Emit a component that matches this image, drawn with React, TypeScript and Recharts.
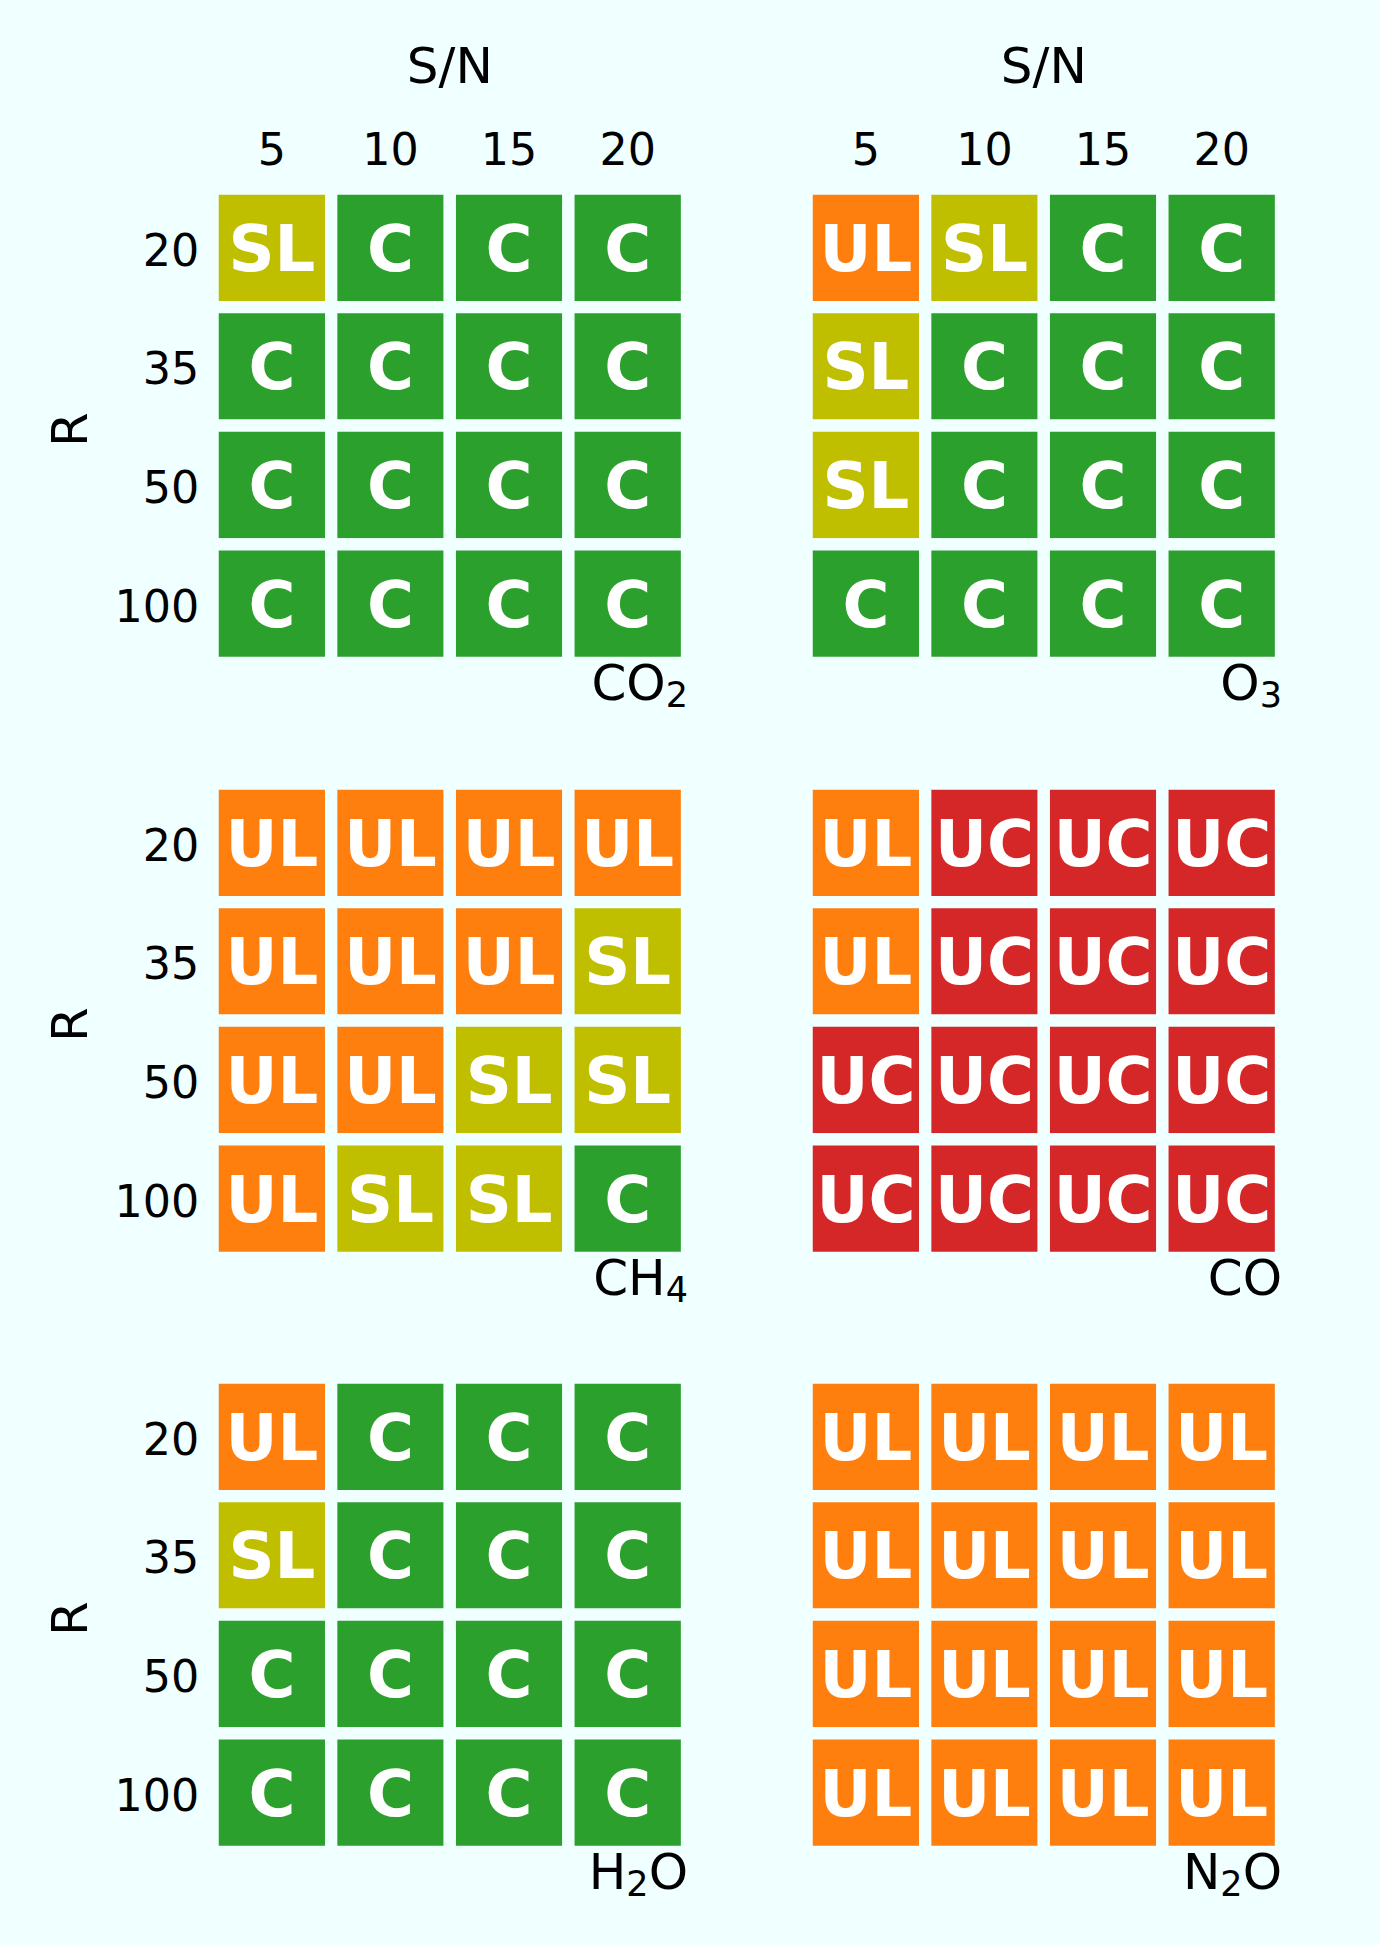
import React from 'react';
import { ScatterChart, Scatter, XAxis, YAxis, ReferenceArea } from 'recharts';

// ---------- data ----------
const snLabels = ['5', '10', '15', '20'];
const rLabels = ['20', '35', '50', '100'];

const statusColors: Record<string, string> = {
  C: '#2ca02c',
  SL: '#bfbf00',
  UL: '#ff7f0e',
  UC: '#d62728',
};

const co2Grid = [
  ['SL', 'C', 'C', 'C'],
  ['C', 'C', 'C', 'C'],
  ['C', 'C', 'C', 'C'],
  ['C', 'C', 'C', 'C'],
];
const o3Grid = [
  ['UL', 'SL', 'C', 'C'],
  ['SL', 'C', 'C', 'C'],
  ['SL', 'C', 'C', 'C'],
  ['C', 'C', 'C', 'C'],
];
const ch4Grid = [
  ['UL', 'UL', 'UL', 'UL'],
  ['UL', 'UL', 'UL', 'SL'],
  ['UL', 'UL', 'SL', 'SL'],
  ['UL', 'SL', 'SL', 'C'],
];
const coGrid = [
  ['UL', 'UC', 'UC', 'UC'],
  ['UL', 'UC', 'UC', 'UC'],
  ['UC', 'UC', 'UC', 'UC'],
  ['UC', 'UC', 'UC', 'UC'],
];
const h2oGrid = [
  ['UL', 'C', 'C', 'C'],
  ['SL', 'C', 'C', 'C'],
  ['C', 'C', 'C', 'C'],
  ['C', 'C', 'C', 'C'],
];
const n2oGrid = [
  ['UL', 'UL', 'UL', 'UL'],
  ['UL', 'UL', 'UL', 'UL'],
  ['UL', 'UL', 'UL', 'UL'],
  ['UL', 'UL', 'UL', 'UL'],
];

const co2Name = [{ t: 'CO' }, { t: '2', sub: true }];
const o3Name = [{ t: 'O' }, { t: '3', sub: true }];
const ch4Name = [{ t: 'CH' }, { t: '4', sub: true }];
const coName = [{ t: 'CO' }];
const h2oName = [{ t: 'H' }, { t: '2', sub: true }, { t: 'O' }];
const n2oName = [{ t: 'N' }, { t: '2', sub: true }, { t: 'O' }];

const panels = [
  { grid: co2Grid, name: co2Name, col: 0, row: 0 },
  { grid: o3Grid, name: o3Name, col: 1, row: 0 },
  { grid: ch4Grid, name: ch4Name, col: 0, row: 1 },
  { grid: coGrid, name: coName, col: 1, row: 1 },
  { grid: h2oGrid, name: h2oName, col: 0, row: 2 },
  { grid: n2oGrid, name: n2oName, col: 1, row: 2 },
];

// ---------- layout / style ----------
const BG = '#F0FFFF';
const FONT = 'DejaVu Sans';
const PLOT = 474.4;
const PLOT_LEFT = 212.6;
const PLOT_TOP = 188.5;
const COL_OFFSET = 594.3;
const ROW_OFFSET = 594.5;
const CHART_W = 690;
const CHART_H = 756;
const EDGE = 12.3;
const TICK_FS = 44.4;
const LABEL_FS = 50;
const CELL_FS = 64;

function XTick(props: any) {
  const { x, y, payload, show } = props;
  if (!show) return <g />;
  return (
    <text x={x} y={y - 23.5} textAnchor="middle" fontSize={TICK_FS} fontFamily={FONT} fill="#000">
      {snLabels[payload.value]}
    </text>
  );
}

function YTick(props: any) {
  const { x, y, payload, show } = props;
  if (!show) return <g />;
  return (
    <text x={x - 13.3} y={y + 17.9} textAnchor="end" fontSize={TICK_FS} fontFamily={FONT} fill="#000">
      {rLabels[payload.value]}
    </text>
  );
}

function Panel({ grid, name, col, row }: any) {
  const cells = grid.flatMap((rowArr: string[], r: number) =>
    rowArr.map((s: string, c: number) => ({ x: c, y: r, status: s }))
  );
  const showX = row === 0;
  const showY = col === 0;
  return (
    <div
      style={{
        position: 'absolute',
        left: col * COL_OFFSET,
        top: row * ROW_OFFSET,
        width: CHART_W,
        height: CHART_H,
      }}
    >
      <ScatterChart
        width={CHART_W}
        height={CHART_H}
        margin={{ top: 0, right: CHART_W - PLOT_LEFT - PLOT, bottom: CHART_H - PLOT_TOP - PLOT, left: 0 }}
      >
        <XAxis
          dataKey="x"
          type="number"
          orientation="top"
          domain={[-0.5, 3.5]}
          ticks={[0, 1, 2, 3]}
          height={PLOT_TOP}
          axisLine={false}
          tickLine={false}
          tickSize={0}
          tickMargin={0}
          interval={0}
          tick={<XTick show={showX} />}
          label={
            showX
              ? (p: any) => {
                  const vb = p.viewBox || {};
                  return (
                    <text
                      x={vb.x + vb.width / 2}
                      y={vb.y + vb.height - 105.5}
                      textAnchor="middle"
                      fontSize={LABEL_FS}
                      fontFamily={FONT}
                      fill="#000"
                    >
                      S/N
                    </text>
                  );
                }
              : undefined
          }
        />
        <YAxis
          dataKey="y"
          type="number"
          domain={[-0.5, 3.5]}
          ticks={[0, 1, 2, 3]}
          reversed
          width={PLOT_LEFT}
          axisLine={false}
          tickLine={false}
          tickSize={0}
          tickMargin={0}
          interval={0}
          tick={<YTick show={showY} />}
          label={
            showY
              ? (p: any) => {
                  const vb = p.viewBox || {};
                  const cy = vb.y + vb.height / 2 + 4;
                  return (
                    <text
                      transform={`translate(87, ${cy}) rotate(-90)`}
                      textAnchor="middle"
                      fontSize={LABEL_FS}
                      fontFamily={FONT}
                      fill="#000"
                    >
                      R
                    </text>
                  );
                }
              : undefined
          }
        />
        {cells.map((cell: any) => (
          <ReferenceArea
            key={`${cell.x}-${cell.y}`}
            x1={cell.x - 0.5}
            x2={cell.x + 0.5}
            y1={cell.y - 0.5}
            y2={cell.y + 0.5}
            fill={statusColors[cell.status]}
            fillOpacity={1}
            stroke={BG}
            strokeWidth={EDGE}
            ifOverflow="visible"
            label={(p: any) => {
              const vb = p.viewBox || {};
              return (
                <text
                  x={vb.x + vb.width / 2}
                  y={vb.y + vb.height / 2 + 23}
                  textAnchor="middle"
                  fontSize={CELL_FS}
                  fontWeight="bold"
                  fontFamily={FONT}
                  fill="#ffffff"
                >
                  {cell.status}
                </text>
              );
            }}
          />
        ))}
        <ReferenceArea
          x1={-0.5}
          x2={3.5}
          y1={-0.5}
          y2={3.5}
          fill="none"
          fillOpacity={0}
          stroke="none"
          ifOverflow="visible"
          label={(p: any) => {
            const vb = p.viewBox || {};
            const parts: any[] = [];
            let shifted = false;
            name.forEach((part: any, i: number) => {
              let dy = 0;
              if (part.sub && !shifted) {
                dy = 7.5;
                shifted = true;
              } else if (!part.sub && shifted) {
                dy = -7.5;
                shifted = false;
              }
              parts.push(
                <tspan key={i} dy={dy} fontSize={part.sub ? LABEL_FS * 0.7 : LABEL_FS}>
                  {part.t}
                </tspan>
              );
            });
            return (
              <text
                x={vb.x + vb.width + 1}
                y={vb.y + vb.height + 37}
                textAnchor="end"
                fontFamily={FONT}
                fontSize={LABEL_FS}
                fill="#000"
              >
                {parts}
              </text>
            );
          }}
        />
        <Scatter data={cells} isAnimationActive={false} shape={() => <g />} />
      </ScatterChart>
    </div>
  );
}

export default function App() {
  return (
    <div
      style={{
        position: 'absolute',
        left: 0,
        top: 0,
        width: 1380,
        height: 1945,
        background: BG,
        overflow: 'hidden',
      }}
    >
      {panels.map((p, i) => (
        <Panel key={i} {...p} />
      ))}
    </div>
  );
}
